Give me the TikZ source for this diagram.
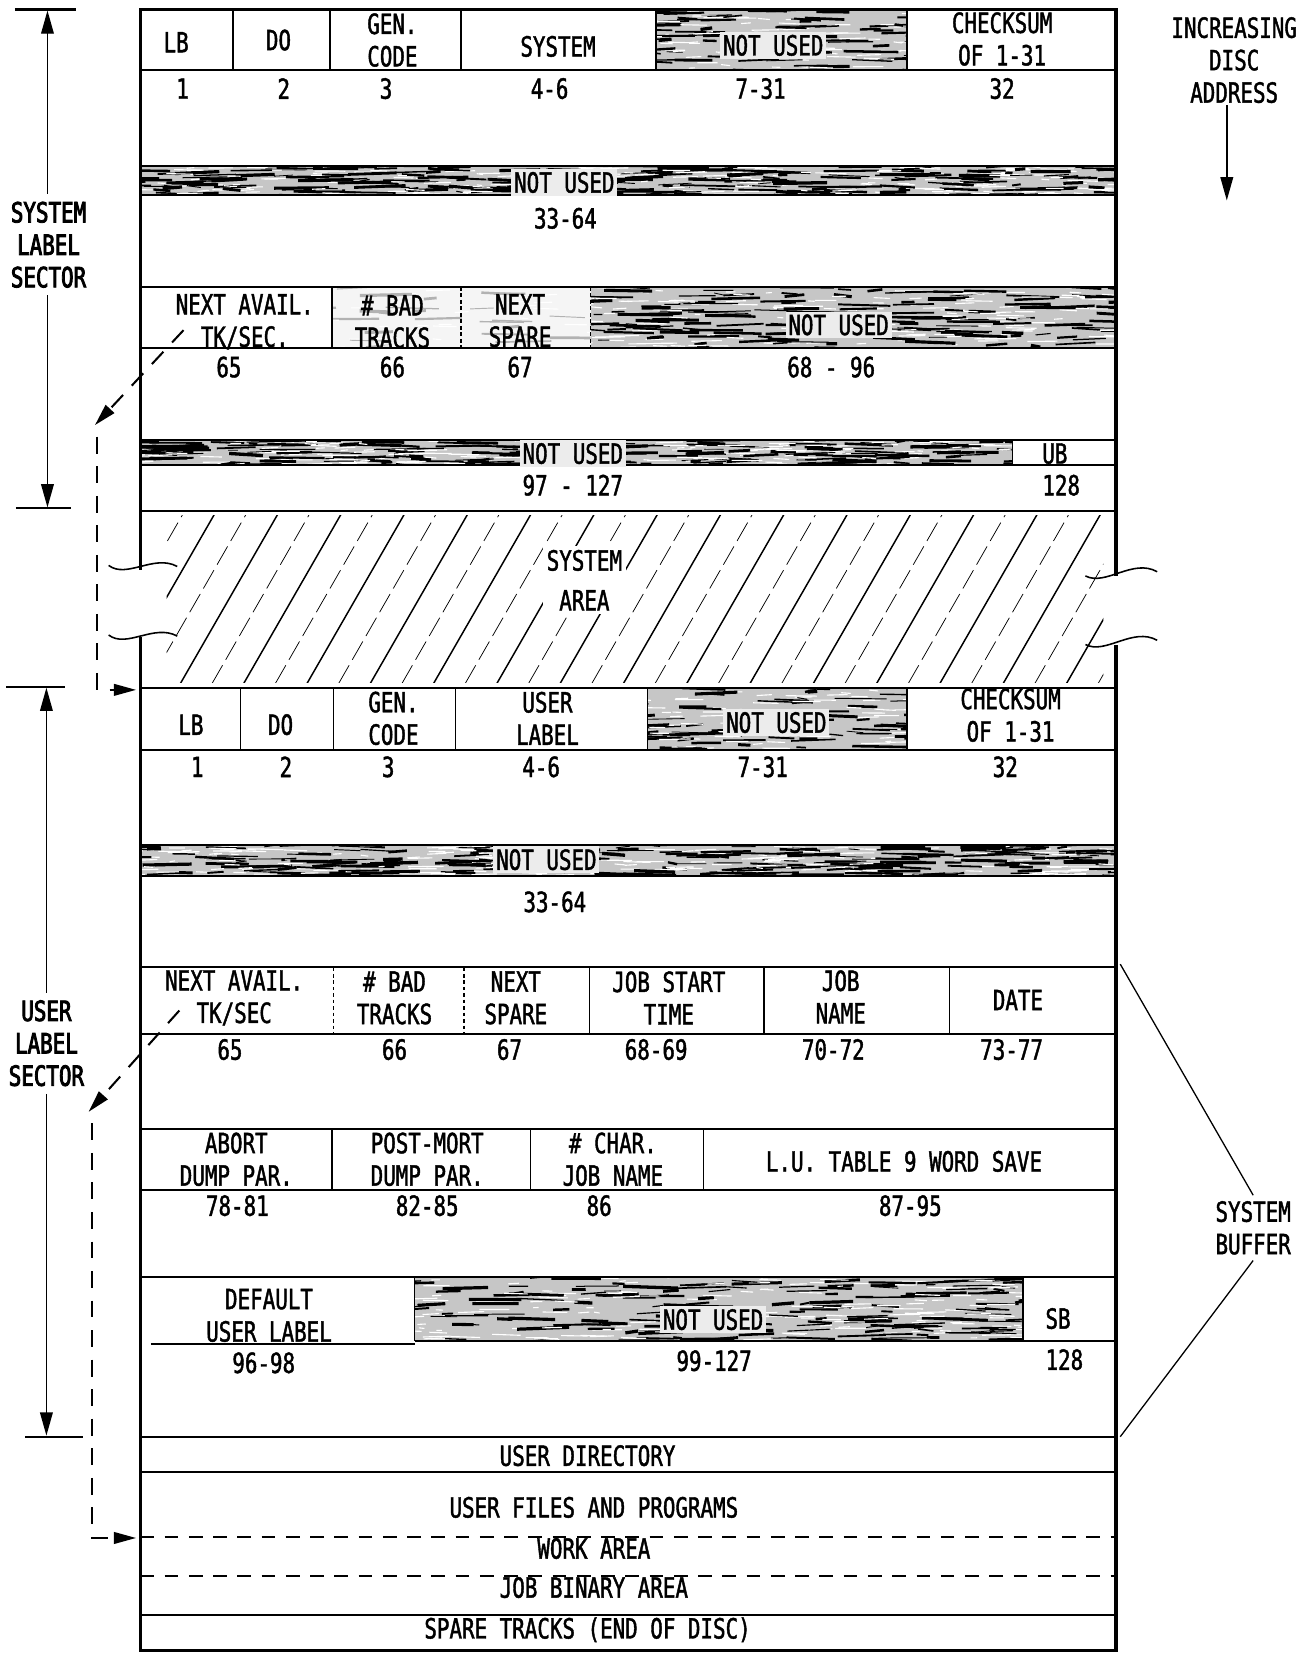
\documentclass[tikz,border=0pt]{standalone}
\usepackage{fontspec}
\newfontfamily\dmapfont{DejaVu Sans Mono}[FakeStretch=0.75, FakeBold=1.5]
\newfontfamily\dmapheavy{DejaVu Sans Mono}[FakeStretch=0.75, FakeBold=3]
\usetikzlibrary{arrows.meta,positioning,calc}
\tikzset{
  lbl/.style={inner sep=1pt, align=center, font=\dmapfont\fontsize{15}{17.5}\selectfont},
  seclbl/.style={lbl, inner sep=4pt, font=\dmapheavy\fontsize{15}{17.5}\selectfont},
  nulbl/.style={lbl, fill=gray!15, inner sep=1.5pt},
  boxedge/.style={line width=1.7pt},
  rowline/.style={line width=1.1pt},
  divline/.style={line width=0.85pt},
  dotdiv/.style={line width=0.7pt, dash pattern=on 2pt off 1.5pt},
  tickln/.style={line width=1.1pt},
  secarrow/.style={line width=0.8pt, -{Triangle[length=0.44cm,width=0.24cm]}},
  dashcon/.style={line width=1.1pt, dash pattern=on 0.32cm off 0.24cm, -{Triangle[length=0.42cm,width=0.22cm]}},
  areadash/.style={line width=1.1pt, dash pattern=on 0.26cm off 0.2cm},
  bufline/.style={line width=0.7pt},
  hatchln/.style={line width=0.8pt},
  hatchthin/.style={line width=0.4pt, dash pattern=on 0.4cm off 0.12cm},
}
% x1 y1 x2 y2 count fill streak
\newcommand{\scribble}[7]{%
  \begin{scope}
    \clip (#1,#2) rectangle (#3,#4);
    \fill[#6] (#1,#2) rectangle (#3,#4);
    \foreach \k in {1,...,#5}{%
      \pgfmathsetmacro{\sx}{#1-20+rnd*(#3-#1+20)}%
      \pgfmathsetmacro{\sy}{#2+rnd*(#4-#2)}%
      \pgfmathsetmacro{\sl}{8+rnd*45}%
      \pgfmathsetmacro{\sw}{0.4+rnd*1.4}%
      \draw[#7, line width=\sw pt] (\sx,\sy) -- ++(\sl,{2*rand});
      \pgfmathsetmacro{\sx}{#1-20+rnd*(#3-#1+20)}%
      \pgfmathsetmacro{\sy}{#2+rnd*(#4-#2)}%
      \draw[white, line width=0.6pt] (\sx,\sy) -- ++({5+rnd*25},{rand});
    }
  \end{scope}}

\begin{document}
\begin{tikzpicture}[x=0.02cm, y=-0.02cm]
  \useasboundingbox (0,0) rectangle (1244,1568);
  \pgfmathsetseed{42}

  % unused words, shaded
  \scribble{622}{9}{860}{66.5}{70}{gray!45}{black}
  \scribble{133}{157}{1058}{185}{220}{gray!45}{black}
  \scribble{315}{272}{560}{330}{25}{gray!8}{gray!60}
  \scribble{560}{272}{1058}{330}{150}{gray!45}{black}
  \scribble{133}{417}{960}{441}{190}{gray!45}{black}
  \scribble{614}{652}{860}{711}{70}{gray!45}{black}
  \scribble{133}{801}{1058}{830}{220}{gray!45}{black}
  \scribble{393}{1211}{970}{1271}{170}{gray!45}{black}

  % system area hatching
  \begin{scope}
    \clip (158,489) rectangle (1046,647);
    \foreach \i in {-1,...,15} \draw[hatchln] ({171+60*\i},648) -- ++(92,-160);
    \foreach \i in {-2,...,15} \draw[hatchthin] ({201+60*\i},648) -- ++(92,-160);
  \end{scope}

  % outline with break
  \draw[boxedge] (133,540) -- (133,9) -- (1058,9) -- (1058,546);
  \draw[boxedge] (133,604) -- (133,1565) -- (1058,1565) -- (1058,611);
  \draw[divline] (103,536) .. controls (120,549) and (146,525) .. (168,537);
  \draw[divline] (103,602) .. controls (120,615) and (146,591) .. (168,603);
  \draw[divline] (1029,546) .. controls (1048,556) and (1074,529) .. (1097,542);
  \draw[divline] (1029,611) .. controls (1048,621) and (1074,594) .. (1097,607);

  % system label sector lines
  \draw[rowline] (133,66.5) -- (1058,66.5);
  \foreach \x in {221,313,437,622,860} \draw[divline] (\x,9) -- (\x,66.5);
  \draw[rowline] (133,157) -- (1058,157) (133,185) -- (1058,185);
  \draw[rowline] (133,272) -- (1058,272) (133,330) -- (1058,330);
  \draw[divline] (315,272) -- (315,330);
  \draw[dotdiv] (437,272) -- (437,330) (560,272) -- (560,330);
  \draw[rowline] (133,417) -- (1058,417) (133,441) -- (1058,441);
  \draw[divline] (960,417) -- (960,441);
  \draw[rowline] (133,484) -- (1058,484);

  % user label sector lines
  \draw[rowline] (133,652) -- (1058,652) (133,711) -- (1058,711);
  \foreach \x in {228,316,432,614,860} \draw[divline] (\x,652) -- (\x,711);
  \draw[rowline] (133,801) -- (1058,801) (133,830) -- (1058,830);
  \draw[rowline] (133,917) -- (1058,917) (133,980) -- (1058,980);
  \draw[dotdiv] (316,917) -- (316,980) (440,917) -- (440,980);
  \foreach \x in {559,724,900} \draw[divline] (\x,917) -- (\x,980);
  \draw[rowline] (133,1070) -- (1058,1070) (133,1128) -- (1058,1128);
  \foreach \x in {315,503,667} \draw[divline] (\x,1070) -- (\x,1128);
  \draw[rowline] (133,1211) -- (1058,1211);
  \draw[divline] (143,1274) -- (393,1274);
  \draw[rowline] (393,1271) -- (1058,1271);
  \draw[divline] (393,1211) -- (393,1271) (970,1211) -- (970,1271);

  % rest of disc
  \draw[rowline] (133,1362) -- (1058,1362) (133,1395) -- (1058,1395);
  \draw[areadash] (133,1457) -- (1058,1457) (133,1494) -- (1058,1494);
  \draw[rowline] (133,1531) -- (1058,1531);

  % system label texts
  \node[lbl] (slb) at (167,40) {LB};
  \node[lbl] (sdo) at (264,38) {DO};
  \node[lbl] (sgen) at (372,38) {GEN.\\CODE};
  \node[lbl] (ssys) at (529,44) {SYSTEM};
  \node[nulbl] (snu1) at (733,43) {NOT USED};
  \node[lbl] (schk) at (950,37) {CHECKSUM\\OF 1-31};
  \foreach \x/\t [count=\i] in {173/1, 269/2, 366/3, 521/4-6, 721/7-31, 950/32}
    \node[lbl] (sw\i) at (\x,84) {\t};
  \node[nulbl] (snu2) at (535,173) {NOT USED};
  \node[lbl] (sw7) at (536,207) {33-64};
  \node[lbl] (snext) at (232,305) {NEXT AVAIL.\\TK/SEC.};
  \node[lbl] (sbad) at (372,305) {\# BAD\\TRACKS};
  \node[lbl] (sspare) at (493,304) {NEXT\\SPARE};
  \node[nulbl] (snu3) at (795,308) {NOT USED};
  \foreach \x/\t [count=\i] in {217/65, 372/66, 493/67, 788/68 - 96}
    \node[lbl] (sx\i) at (\x,348) {\t};
  \node[nulbl] (snu4) at (543,430) {NOT USED};
  \node[lbl] (sub) at (1000,430) {UB};
  \node[lbl] (sw8) at (543,460) {97 - 127};
  \node[lbl] (sw9) at (1006,460) {128};
  \node[lbl, fill=white, inner sep=2pt] (sarea) at (554,550) {SYSTEM\\[4pt]AREA};

  % user label texts
  \node[lbl] (ulb) at (181,687) {LB};
  \node[lbl] (udo) at (266,687) {DO};
  \node[lbl] (ugen) at (373,681) {GEN.\\CODE};
  \node[lbl] (uusr) at (519,681) {USER\\LABEL};
  \node[nulbl] (unu1) at (736,685) {NOT USED};
  \node[lbl] (uchk) at (958,678) {CHECKSUM\\OF 1-31};
  \foreach \x/\t [count=\i] in {187/1, 271/2, 368/3, 513/4-6, 723/7-31, 953/32}
    \node[lbl] (uw\i) at (\x,727) {\t};
  \node[nulbl] (unu2) at (518,815) {NOT USED};
  \node[lbl] (uw7) at (526,855) {33-64};
  \node[lbl] (unext) at (222,946) {NEXT AVAIL.\\TK/SEC};
  \node[lbl] (ubad) at (374,946) {\# BAD\\TRACKS};
  \node[lbl] (uspare) at (489,946) {NEXT\\SPARE};
  \node[lbl] (ustart) at (634,946) {JOB START\\TIME};
  \node[lbl] (ujob) at (797,945) {JOB\\NAME};
  \node[lbl] (udate) at (965,948) {DATE};
  \foreach \x/\t [count=\i] in {218/65, 374/66, 483/67, 622/68-69, 790/70-72, 959/73-77}
    \node[lbl] (ux\i) at (\x,995) {\t};
  \node[lbl] (uabort) at (224,1099) {ABORT\\DUMP PAR.};
  \node[lbl] (upost) at (405,1099) {POST-MORT\\DUMP PAR.};
  \node[lbl] (uchar) at (581,1099) {\# CHAR.\\JOB NAME};
  \node[lbl] (ulu) at (857,1101) {L.U. TABLE 9 WORD SAVE};
  \foreach \x/\t [count=\i] in {225/78-81, 405/82-85, 568/86, 863/87-95}
    \node[lbl] (uy\i) at (\x,1143) {\t};
  \node[lbl] (udef) at (255,1247) {DEFAULT\\USER LABEL};
  \node[nulbl] (unu3) at (676,1251) {NOT USED};
  \node[lbl] (usb) at (1003,1250) {SB};
  \node[lbl] (uz1) at (250,1292) {96-98};
  \node[lbl] (uz2) at (677,1290) {99-127};
  \node[lbl] (uz3) at (1009,1289) {128};

  % user areas
  \node[lbl] (udir) at (557,1380) {USER DIRECTORY};
  \node[lbl] (ufiles) at (563,1429) {USER FILES AND PROGRAMS};
  \node[lbl] (uwork) at (563,1468) {WORK AREA};
  \node[lbl] (ubin) at (563,1505) {JOB BINARY AREA};
  \node[lbl] (uspt) at (557,1545) {SPARE TRACKS (END OF DISC)};

  % sector spans
  \draw[tickln] (14,9) -- (72,9) (15,482) -- (67,482);
  \draw[tickln] (6,651) -- (62,651) (24,1362) -- (79,1362);
  \node[seclbl] (slsec) at (46,232) {SYSTEM\\LABEL\\SECTOR};
  \node[seclbl] (ulsec) at (44,989) {USER\\LABEL\\SECTOR};
  \coordinate (slsTop) at (45,10);
  \coordinate (slsBot) at (45,481);
  \coordinate (ulsTop) at (44,652);
  \coordinate (ulsBot) at (44,1361);
  \draw[secarrow] (slsTop |- slsec.north) -- (slsTop);
  \draw[secarrow] (slsBot |- slsec.south) -- (slsBot);
  \draw[secarrow] (ulsTop |- ulsec.north) -- (ulsTop);
  \draw[secarrow] (ulsBot |- ulsec.south) -- (ulsBot);

  % next available track/sector pointers
  \coordinate (sysTK) at (174,313);
  \coordinate (sysTip) at (90,403);
  \coordinate (sysDrop) at (92,414);
  \coordinate (usrStart) at (129,654);
  \draw[dashcon] (sysTK) -- (sysTip);
  \draw[dashcon] (sysDrop) |- (usrStart);
  \coordinate (usrTK) at (170,958);
  \coordinate (usrTip) at (84,1054);
  \coordinate (usrDrop) at (87,1065);
  \coordinate (workStart) at (129,1458);
  \draw[dashcon] (usrTK) -- (usrTip);
  \draw[dashcon] (usrDrop) |- (workStart);

  % right side notes
  \node[lbl] (incr) at (1170,57) {INCREASING\\DISC\\ADDRESS};
  \coordinate (incrEnd) at (1163,190);
  \draw[secarrow] (incrEnd |- incr.south) -- (incrEnd);
  \node[lbl, inner sep=3pt] (sysbuf) at (1188,1164) {SYSTEM\\BUFFER};
  \coordinate (bufTop) at (1062,914);
  \coordinate (bufBot) at (1062,1362);
  \draw[bufline] (bufTop) -- (sysbuf.north);
  \draw[bufline] (sysbuf.south) -- (bufBot);
\end{tikzpicture}
\end{document}
